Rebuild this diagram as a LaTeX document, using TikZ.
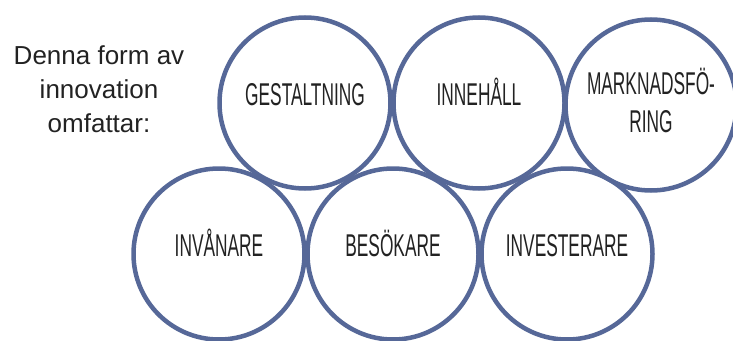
\documentclass[tikz,border=0pt]{standalone}
\usepackage{fontspec}
\usepackage{xcolor}
\setmainfont{Liberation Sans}
\newfontfamily\narrowfont[FakeStretch=0.55]{Liberation Sans}
\definecolor{ringblue}{RGB}{86,104,152}
\definecolor{inkgray}{RGB}{34,34,34}
\usetikzlibrary{positioning}

\begin{document}
\begin{tikzpicture}[x=1pt, y=-1pt,
  ring/.style={circle, draw=ringblue, line width=4.5pt, minimum size=171pt,
               inner sep=0pt, text=inkgray, font=\narrowfont\fontsize{31.5}{33}\selectfont,
               text height=23pt, text depth=18pt},
  ring2/.style={ring, text height=, text depth=, align=center},
  intro/.style={font=\fontsize{26}{34}\selectfont, text=inkgray, align=center}
]
\useasboundingbox (0,0) rectangle (733,340);
% upper row
\foreach \i/\x/\lbl in {1/305/GESTALTNING, 2/479/INNEHÅLL}{
  \node[ring] (top\i) at (\x, 103) {\lbl};
}
\node[ring2] (top3) at (651, 105) {\raisebox{14pt}{\begin{tabular}{@{}c@{}}MARKNADSFÖ-\\[5pt] RING\end{tabular}}};
% lower row
\foreach \j/\x/\lbl in {1/219/INVÅNARE, 2/393/BESÖKARE, 3/567/INVESTERARE}{
  \node[ring] (bot\j) at (\x, 254) {\lbl};
}
\node[intro] (intro) at (99, 89) {Denna form av\\innovation\\omfattar:};
\end{tikzpicture}
\end{document}
